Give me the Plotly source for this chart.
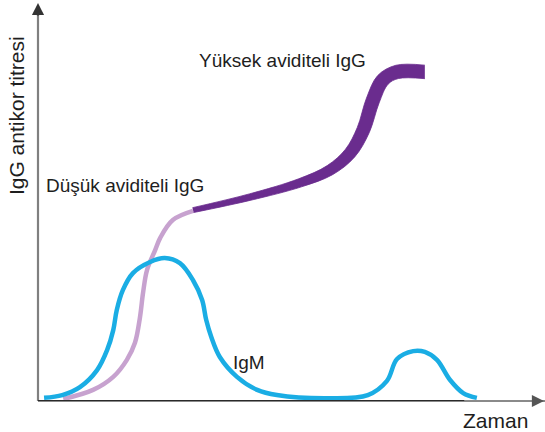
import math
import plotly.graph_objects as go

# Time (arbitrary units 0-100) and titre (arbitrary units 0-100)
igm_t = [1.2, 4.8, 8.3, 11.7, 13.7, 14.9, 15.6, 16.8, 18.8, 22.2, 25.1, 28.1, 30.7, 32.5,
         33.3, 34.3, 36.0, 39.4, 43.4, 47.3, 57.8, 65.3, 69.1, 71.1, 74.3, 76.6, 79.0,
         81.6, 84.2, 86.9]
igm_v = [0.8, 1.5, 3.5, 7.8, 12.9, 17.9, 23.0, 28.0, 32.3, 35.1, 36.1, 34.8, 30.5, 25.5,
         20.5, 16.2, 11.1, 6.1, 2.8, 1.5, 0.7, 1.5, 5.1, 10.6, 12.6, 12.4, 10.4,
         5.3, 2.0, 0.8]

low_t = [5.0, 10.9, 14.9, 17.6, 19.2, 20.2, 20.8, 21.6, 23.2, 24.2, 26.7, 30.7]
low_v = [0.5, 2.8, 6.1, 10.4, 14.7, 21.2, 27.3, 33.1, 38.1, 41.2, 45.7, 48.0]

high_t = [30.7, 42.0, 51.9, 57.8, 61.8, 64.4, 66.3, 68.3, 71.1, 76.6]
high_v = [48.2, 51.5, 55.1, 58.3, 62.6, 68.4, 75.9, 81.1, 83.1, 83.1]
high_w = [5, 6.5, 8.5, 10.5, 12, 13, 13.5, 13.5, 13.5, 13.5]  # stroke thickness (px)

labels = {
    "high": "Yüksek aviditeli IgG",
    "low": "Düşük aviditeli IgG",
    "igm": "IgM",
    "x": "Zaman",
    "y": "IgG antikor titresi",
}

IGM_C = "#1AADE4"
LOW_C = "#C7A2CF"
HIGH_C = "#6A2C8E"
FONT = "Arial, Liberation Sans, sans-serif"

W, H = 545, 432
M = dict(l=38, r=2, t=5, b=31)
XR, YR = [0, 100], [0, 100]
px_x = (W - M["l"] - M["r"]) / (XR[1] - XR[0])   # pixels per x unit
px_y = (H - M["t"] - M["b"]) / (YR[1] - YR[0])   # pixels per y unit

# tapered band edges for the high-avidity curve (offset along the local normal)
n = len(high_t)
up_t, up_v, lo_t, lo_v = [], [], [], []
for i in range(n):
    a, b = max(i - 1, 0), min(i + 1, n - 1)
    dx = (high_t[b] - high_t[a]) * px_x
    dy = (high_v[b] - high_v[a]) * px_y
    L = math.hypot(dx, dy)
    nx, ny = -dy / L, dx / L
    h = high_w[i] / 2
    up_t.append(high_t[i] + nx * h / px_x)
    up_v.append(high_v[i] + ny * h / px_y)
    lo_t.append(high_t[i] - nx * h / px_x)
    lo_v.append(high_v[i] - ny * h / px_y)

fig = go.Figure()

fig.add_trace(go.Scatter(x=low_t, y=low_v, mode="lines",
                         line=dict(color=LOW_C, width=4.5, shape="spline", smoothing=1.0),
                         hoverinfo="skip"))

fig.add_trace(go.Scatter(x=up_t, y=up_v, mode="lines",
                         line=dict(color=HIGH_C, width=0.8, shape="spline", smoothing=1.0),
                         hoverinfo="skip"))
fig.add_trace(go.Scatter(x=lo_t, y=lo_v, mode="lines", fill="tonexty", fillcolor=HIGH_C,
                         line=dict(color=HIGH_C, width=0.8, shape="spline", smoothing=1.0),
                         hoverinfo="skip"))

fig.add_trace(go.Scatter(x=igm_t, y=igm_v, mode="lines",
                         line=dict(color=IGM_C, width=4.5, shape="spline", smoothing=1.0),
                         hoverinfo="skip"))

# axes
fig.add_shape(type="line", xref="paper", yref="paper", x0=0, x1=0, y0=0, y1=0.99,
              line=dict(color="#808080", width=2.2))
fig.add_shape(type="line", xref="paper", yref="paper", x0=0, x1=1.01, y0=0, y1=0,
              line=dict(color="#8a8a8a", width=2))
fig.add_shape(type="line", x0=-0.3, x1=max(igm_t) - 2.5, y0=0, y1=0, xref="x", yref="y",
              line=dict(color="#2a2a2a", width=2))
fig.add_annotation(x=0, y=1.005, xref="paper", yref="paper", ax=0, ay=14,
                   text="", showarrow=True, arrowhead=2, arrowsize=1.1, arrowwidth=2.2,
                   arrowcolor="#333333")
fig.add_annotation(x=1.006, y=0, xref="paper", yref="paper", ax=-14, ay=0,
                   text="", showarrow=True, arrowhead=2, arrowsize=1.1, arrowwidth=2.2,
                   arrowcolor="#555555")

fig.add_annotation(x=48.5, y=86.1, text=labels["high"], showarrow=False,
                   xanchor="center", yanchor="middle",
                   font=dict(family=FONT, size=19, color="#1e1e1e"))
fig.add_annotation(x=1.2, y=54.3, text=labels["low"], showarrow=False,
                   xanchor="left", yanchor="middle",
                   font=dict(family=FONT, size=19, color="#1e1e1e"))
fig.add_annotation(x=38.2, y=9.8, text=labels["igm"], showarrow=False,
                   xanchor="left", yanchor="middle",
                   font=dict(family=FONT, size=19, color="#1e1e1e"))
fig.add_annotation(x=0.905, y=-0.048, xref="paper", yref="paper", text=labels["x"],
                   showarrow=False, xanchor="center", yanchor="middle",
                   font=dict(family=FONT, size=21, color="#1e1e1e"))
fig.add_annotation(x=-0.0436, y=0.722, xref="paper", yref="paper", text=labels["y"],
                   showarrow=False, textangle=-90, xanchor="center", yanchor="middle",
                   font=dict(family=FONT, size=21, color="#1e1e1e"))

fig.update_layout(
    width=W, height=H,
    margin=M,
    paper_bgcolor="white", plot_bgcolor="white",
    showlegend=False,
    xaxis=dict(range=XR, visible=False, fixedrange=True),
    yaxis=dict(range=YR, visible=False, fixedrange=True),
)

fig.write_html("out.html", config={"displayModeBar": False},
               post_script="document.body.style.margin='0';document.body.style.overflow='hidden';")
